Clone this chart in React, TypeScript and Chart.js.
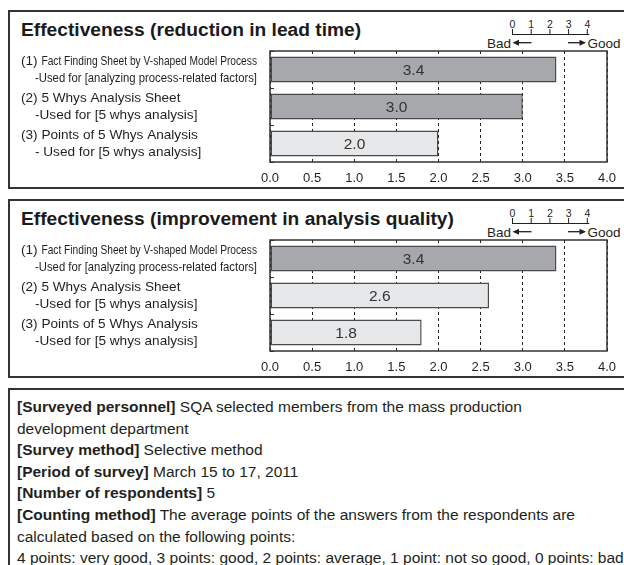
import React, { useEffect, useRef } from "react";
import { Chart, registerables } from "chart.js";

Chart.register(...registerables);

// ---------- data ----------
const axisMin = 0;
const axisMax = 4;
const axisStep = 0.5;

const methodNames = [
  "(1) Fact Finding Sheet by V-shaped Model Process",
  "(2) 5 Whys Analysis Sheet",
  "(3) Points of 5 Whys Analysis",
];
const leadTimeUses = [
  "-Used for [analyzing process-related factors]",
  "-Used for [5 whys analysis]",
  "- Used for [5 whys analysis]",
];
const qualityUses = [
  "-Used for [analyzing process-related factors]",
  "-Used for [5 whys analysis]",
  "-Used for [5 whys analysis]",
];
const leadTimeValues = [3.4, 3.0, 2.0];
const qualityValues = [3.4, 2.6, 1.8];
const leadTimeShades = ["dark", "dark", "light"];
const qualityShades = ["dark", "light", "light"];
const ratingPoints = ["0", "1", "2", "3", "4"];
const leadTimeTitle = "Effectiveness (reduction in lead time)";
const qualityTitle = "Effectiveness (improvement in analysis quality)";

// ---------- styles ----------
const FONT = '"Liberation Sans", Arial, Helvetica, sans-serif';
const INK = "#231f20";
const DARK_FILL = "#a7a8ab";
const LIGHT_FILL = "#e6e7e8";
const BAR_EDGE = "#4a4a4c";
const BOX = "#333333";
const PANEL_STEP = 189;

function BarPanel(props: {
  index: number;
  names: string[];
  uses: string[];
  values: number[];
  shades: string[];
}) {
  const ref = useRef<HTMLCanvasElement | null>(null);
  const { index, names, uses, values, shades } = props;

  useEffect(() => {
    const canvas = ref.current;
    if (!canvas) return;

    const boxPlugin = {
      id: "plotBox",
      afterDatasetsDraw(chart: any) {
        const { ctx, chartArea } = chart;
        ctx.save();
        ctx.strokeStyle = BOX;
        ctx.lineWidth = 1.5;
        ctx.setLineDash([]);
        ctx.strokeRect(
          chartArea.left,
          chartArea.top,
          chartArea.right - chartArea.left,
          chartArea.bottom - chartArea.top
        );
        ctx.restore();
      },
    };

    const valuePlugin = {
      id: "valueLabels",
      afterDatasetsDraw(chart: any) {
        const { ctx } = chart;
        const meta = chart.getDatasetMeta(0);
        ctx.save();
        ctx.font = `15.5px ${FONT}`;
        ctx.fillStyle = "#333333";
        ctx.textAlign = "center";
        ctx.textBaseline = "middle";
        meta.data.forEach((bar: any, i: number) => {
          const p = bar.getProps(["x", "y", "base"], true);
          ctx.fillText(values[i].toFixed(1), (p.x + p.base) / 2, p.y + 1);
        });
        ctx.restore();
      },
    };

    // category labels: "(n)" prefix in normal width, the rest condensed to fit the label column
    const categoryPlugin = {
      id: "categoryLabels",
      afterDraw(chart: any) {
        const { ctx, chartArea } = chart;
        const yScale = chart.scales.y;
        const x = yScale.left;
        const limit = chartArea.left - 13;
        const indent = 14;
        const gap = 16;
        ctx.save();
        ctx.font = `13.6px ${FONT}`;
        ctx.fillStyle = INK;
        ctx.textAlign = "left";
        ctx.textBaseline = "middle";
        names.forEach((name, i) => {
          const cy = yScale.getPixelForValue(i);
          const y1 = cy - gap / 2;
          const y2 = cy + gap / 2 + 0.5;
          const m = name.match(/^(\(\d+\)\s)(.*)$/);
          const prefix = m ? m[1] : "";
          const rest = m ? m[2] : name;
          ctx.fillText(prefix, x, y1);
          const pw = ctx.measureText(prefix).width;
          ctx.fillText(rest, x + pw, y1, limit - (x + pw));
          ctx.fillText(uses[i], x + indent, y2, limit - (x + indent));
        });
        ctx.restore();
      },
    };

    const chart = new Chart(canvas, {
      type: "bar",
      data: {
        labels: names,
        datasets: [
          {
            data: values,
            backgroundColor: shades.map((s) => (s === "dark" ? DARK_FILL : LIGHT_FILL)),
            borderColor: BAR_EDGE,
            borderWidth: 1.5,
            borderSkipped: false,
            barPercentage: 0.7,
            categoryPercentage: 1,
          },
        ],
      },
      options: {
        indexAxis: "y",
        responsive: false,
        animation: false,
        devicePixelRatio: 1,
        layout: { padding: { left: 11, right: 17, top: 6, bottom: 0 } },
        plugins: {
          legend: { display: false },
          tooltip: { enabled: false },
        },
        scales: {
          x: {
            type: "linear",
            min: axisMin,
            max: axisMax,
            ticks: {
              stepSize: axisStep,
              callback: (v: any) => Number(v).toFixed(1),
              font: { family: FONT, size: 13 },
              color: INK,
              padding: 9,
            },
            grid: { color: "#222222", lineWidth: 1, drawTicks: false },
            border: { display: false, dash: [3, 3] },
            afterFit: (s: any) => {
              s.height = 24;
              s.paddingLeft = 0;
              s.paddingRight = 0;
            },
          },
          y: {
            type: "category",
            ticks: { display: false },
            grid: {
              offset: true,
              drawOnChartArea: false,
              drawTicks: true,
              tickLength: -4,
              color: BOX,
              lineWidth: 1,
            },
            border: { display: false },
            afterFit: (s: any) => {
              s.width = 249;
              s.paddingTop = 0;
              s.paddingBottom = 0;
            },
          },
        },
      } as any,
      plugins: [boxPlugin, valuePlugin, categoryPlugin],
    });
    return () => chart.destroy();
  }, []);

  return (
    <canvas
      ref={ref}
      width={614}
      height={141}
      style={{
        position: "absolute",
        left: 10,
        top: 45 + index * PANEL_STEP,
        width: 614,
        height: 141,
      }}
    />
  );
}

function RatingScale(props: { index: number }) {
  const dy = props.index * PANEL_STEP;
  const x0 = 512.5;
  const step = 18.7;
  return (
    <svg
      width={624}
      height={60}
      style={{ position: "absolute", left: 0, top: dy, overflow: "visible" }}
    >
      {ratingPoints.map((p, i) => (
        <g key={p}>
          <text
            x={x0 + i * step}
            y={27.5}
            fontFamily={FONT}
            fontSize={10.5}
            fill={INK}
            textAnchor="middle"
          >
            {p}
          </text>
          <line
            x1={x0 + i * step}
            x2={x0 + i * step}
            y1={29}
            y2={34.5}
            stroke={INK}
            strokeWidth={1}
          />
        </g>
      ))}
      <line x1={x0 - 0.5} x2={x0 + 4 * step + 2} y1={34.5} y2={34.5} stroke={INK} strokeWidth={1.2} />
      <text x={511} y={47.5} fontFamily={FONT} fontSize={13.5} fill={INK} textAnchor="end">
        Bad
      </text>
      <line x1={518} x2={531.5} y1={42.7} y2={42.7} stroke={INK} strokeWidth={1.3} />
      <polygon points="512.5,42.7 519,39.7 519,45.7" fill={INK} />
      <line x1={568} x2={580} y1={42.7} y2={42.7} stroke={INK} strokeWidth={1.3} />
      <polygon points="586,42.7 579.5,39.7 579.5,45.7" fill={INK} />
      <text x={587.5} y={47.5} fontFamily={FONT} fontSize={13.5} fill={INK}>
        Good
      </text>
    </svg>
  );
}

function Panel(props: { index: number; title: string }) {
  const top = 10 + props.index * PANEL_STEP;
  return (
    <>
      <div
        style={{
          position: "absolute",
          left: 8,
          top,
          width: 640,
          height: 179,
          boxSizing: "border-box",
          border: `2px solid ${BOX}`,
        }}
      />
      <div
        style={{
          position: "absolute",
          left: 21,
          top: top + 10,
          fontFamily: FONT,
          fontWeight: "bold",
          fontSize: 19.2,
          lineHeight: "19px",
          color: "#1a1a1a",
          whiteSpace: "nowrap",
        }}
      >
        {props.title}
      </div>
    </>
  );
}

export default function App() {
  const b = { fontWeight: "bold" as const };
  return (
    <div
      style={{
        position: "fixed",
        left: 0,
        top: 0,
        width: 624,
        height: 565,
        overflow: "hidden",
        background: "#ffffff",
      }}
    >
      <Panel index={0} title={leadTimeTitle} />
      <RatingScale index={0} />
      <BarPanel
        index={0}
        names={methodNames}
        uses={leadTimeUses}
        values={leadTimeValues}
        shades={leadTimeShades}
      />
      <Panel index={1} title={qualityTitle} />
      <RatingScale index={1} />
      <BarPanel
        index={1}
        names={methodNames}
        uses={qualityUses}
        values={qualityValues}
        shades={qualityShades}
      />
      <div
        style={{
          position: "absolute",
          left: 8,
          top: 388,
          width: 640,
          height: 200,
          boxSizing: "border-box",
          borderTop: `2px solid ${BOX}`,
          borderLeft: `2px solid ${BOX}`,
          padding: "6px 0 0 7px",
          fontFamily: FONT,
          fontSize: 15.5,
          lineHeight: "21.6px",
          color: INK,
          whiteSpace: "nowrap",
        }}
      >
        <div>
          <span style={b}>[Surveyed personnel]</span> SQA selected members from the mass production
        </div>
        <div>development department</div>
        <div>
          <span style={b}>[Survey method]</span> Selective method
        </div>
        <div>
          <span style={b}>[Period of survey]</span> March 15 to 17, 2011
        </div>
        <div>
          <span style={b}>[Number of respondents]</span> 5
        </div>
        <div>
          <span style={b}>[Counting method]</span> The average points of the answers from the respondents are
        </div>
        <div>calculated based on the following points:</div>
        <div>
          4 points: very good, 3 points: good, 2 points: average, 1 point: not so good, 0 points: bad
        </div>
      </div>
    </div>
  );
}
